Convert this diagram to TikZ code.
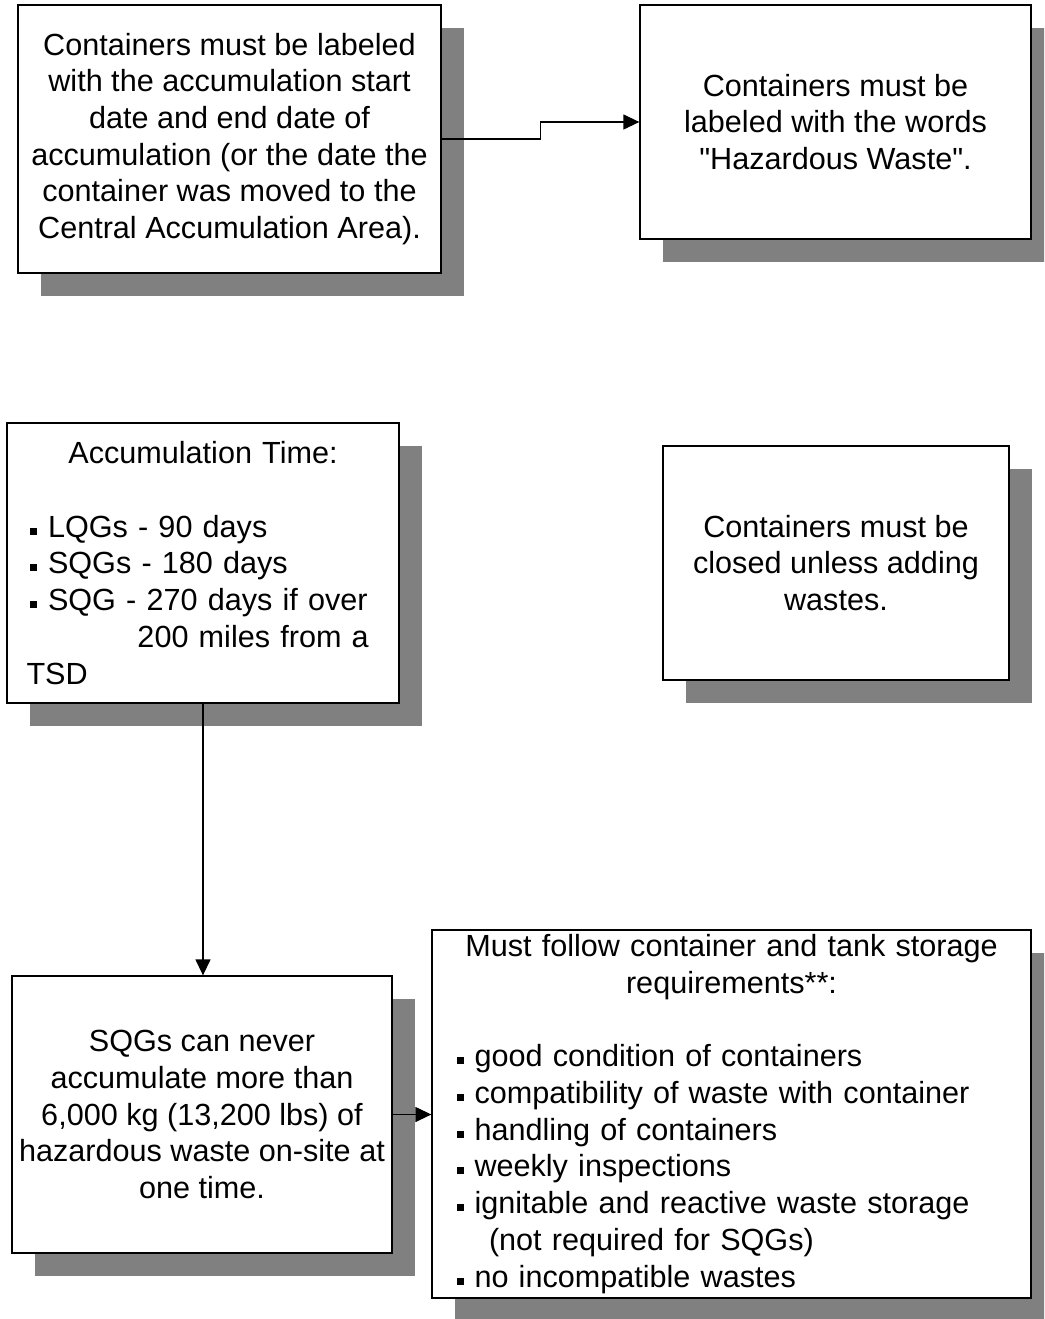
\documentclass[tikz,border=0pt]{standalone}
\usepackage{fontspec}
% a family without TeX ligature mapping, so that " stays a straight quote
\newfontfamily\boxfont{Liberation Sans}
\usetikzlibrary{arrows.meta,shadows,calc}
\definecolor{shadowgray}{HTML}{808080}
% small square bullet followed by the item's indent
\newcommand{\blt}{\makebox[21.5pt][l]{\hspace{3.5pt}\rule[2.5pt]{7pt}{7pt}}}

\begin{document}
\begin{tikzpicture}[x=1pt,y=-1pt,
  box/.style={draw=black, line width=1.3pt, fill=white, rectangle, inner sep=2pt,
    font=\boxfont\fontsize{30.6}{36.7}\selectfont,
    drop shadow={shadow xshift=23pt, shadow yshift=-23pt, fill=shadowgray, opacity=1}},
  link/.style={line width=1.3pt, -{Triangle[length=16pt,width=15pt]}}]
\useasboundingbox (0,0) rectangle (1044,1319);
\clip (0,0) rectangle (1044,1319);

% labelling rules
\node[box, minimum width=423pt, minimum height=268pt, align=center] (b1) at (229.5,139)
  {Containers must be labeled\\with the accumulation start\\date and end date of\\accumulation (or the date the\\container was moved to the\\Central Accumulation Area).};
\node[box, minimum width=391pt, minimum height=234pt, align=center] (b2) at (835.5,122)
  {Containers must be\\labeled with the words\\"Hazardous Waste".};

% accumulation time limits
\node[box, minimum width=392pt, minimum height=280pt, text width=353pt, align=left] (b3) at (203,563)
  {\makebox[353pt][c]{Accumulation Time:}\\
   \mbox{}\\
   \blt LQGs - 90 days\\
   \blt SQGs - 180 days\\
   \blt SQG - 270 days if over\\
   \hspace*{111pt}200 miles from a\\
   TSD};
\node[box, minimum width=346pt, minimum height=234pt, align=center] (b4) at (836,563)
  {Containers must be\\closed unless adding\\wastes.};

% quantity limit and storage requirements
\node[box, minimum width=380pt, minimum height=277pt, align=center] (b5) at (202,1114.5)
  {SQGs can never\\accumulate more than\\6,000 kg (13,200 lbs) of\\hazardous waste on-site at\\one time.};
\node[box, minimum width=599pt, minimum height=368pt, text width=557pt, align=left] (b6) at (731.5,1114)
  {\makebox[557pt][c]{Must follow container and tank storage}\\
   \makebox[557pt][c]{requirements**:}\\
   \mbox{}\\
   \blt good condition of containers\\
   \blt compatibility of waste with container\\
   \blt handling of containers\\
   \blt weekly inspections\\
   \blt ignitable and reactive waste storage\\
   \hspace*{36pt}(not required for SQGs)\\
   \blt no incompatible wastes};

% connectors
\coordinate (m12) at ($(b1.east)!0.5!(b2.west)$);
\draw[link] (b1.east) -| (m12) |- (b2.west);
\draw[link] (b3.south) -- (b3.south |- b5.north);
\draw[link] (b5.east) -- (b5.east -| b6.west);
\end{tikzpicture}
\end{document}
